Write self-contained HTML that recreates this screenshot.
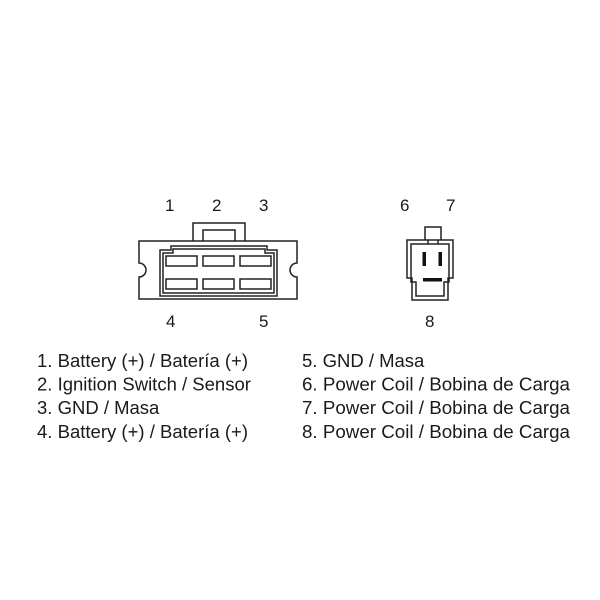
<!DOCTYPE html>
<html><head><style>
html,body{margin:0;padding:0;background:#fff;}
svg{display:block;}
text{font-family:"Liberation Sans",Arial,sans-serif;fill:#1a1a1a;}
</style></head><body>
<svg width="600" height="600" viewBox="0 0 600 600" xmlns="http://www.w3.org/2000/svg">
<rect width="600" height="600" fill="#fff"/>
<g font-size="17">
<text x="165" y="211">1</text>
<text x="212" y="211">2</text>
<text x="259" y="211">3</text>
<text x="166" y="327">4</text>
<text x="259" y="327">5</text>
<text x="400" y="211">6</text>
<text x="446" y="211">7</text>
<text x="425" y="327">8</text>
</g>
<g fill="none" stroke="#222" stroke-width="1.5">
<path d="M139,241 H297 V263 A7,7 0 0 0 297,277 V299 H139 V277 A7,7 0 0 0 139,263 Z"/>
<path d="M193,241 V223 H245 V241"/>
<path d="M203,241 V230 H235 V241"/>
<path d="M160,296 V250 H171 V246 H267 V250 H277 V296 Z"/>
<path d="M163,293 V253 H173 V249 H265 V253 H274 V293 Z"/>
<rect x="166" y="256" width="31" height="10"/>
<rect x="203" y="256" width="31" height="10"/>
<rect x="240" y="256" width="31" height="10"/>
<rect x="166" y="279" width="31" height="10"/>
<rect x="203" y="279" width="31" height="10"/>
<rect x="240" y="279" width="31" height="10"/>
<path d="M407,240 H453 V278 H448 V300 H412 V278 H407 Z"/>
<path d="M411,244 H449 V282 H444 V296 H416 V282 H411 Z"/>
<path d="M425,240 V227 H441 V240"/>
<path d="M428,244 V240 M438,244 V240"/>
</g>
<g fill="#111">
<rect x="422.5" y="252" width="3.5" height="14"/>
<rect x="438.5" y="252" width="3.5" height="14"/>
<rect x="423" y="278" width="19" height="3.5"/>
</g>
<g font-size="18.5">
<text x="37" y="367" textLength="211" lengthAdjust="spacingAndGlyphs">1. Battery (+) / Batería (+)</text>
<text x="37" y="390.5">2. Ignition Switch / Sensor</text>
<text x="37" y="414">3. GND / Masa</text>
<text x="37" y="438" textLength="211" lengthAdjust="spacingAndGlyphs">4. Battery (+) / Batería (+)</text>
<text x="302" y="367">5. GND / Masa</text>
<text x="302" y="390.5" textLength="268" lengthAdjust="spacingAndGlyphs">6. Power Coil / Bobina de Carga</text>
<text x="302" y="414" textLength="268" lengthAdjust="spacingAndGlyphs">7. Power Coil / Bobina de Carga</text>
<text x="302" y="438" textLength="268" lengthAdjust="spacingAndGlyphs">8. Power Coil / Bobina de Carga</text>
</g>
</svg>
</body></html>
